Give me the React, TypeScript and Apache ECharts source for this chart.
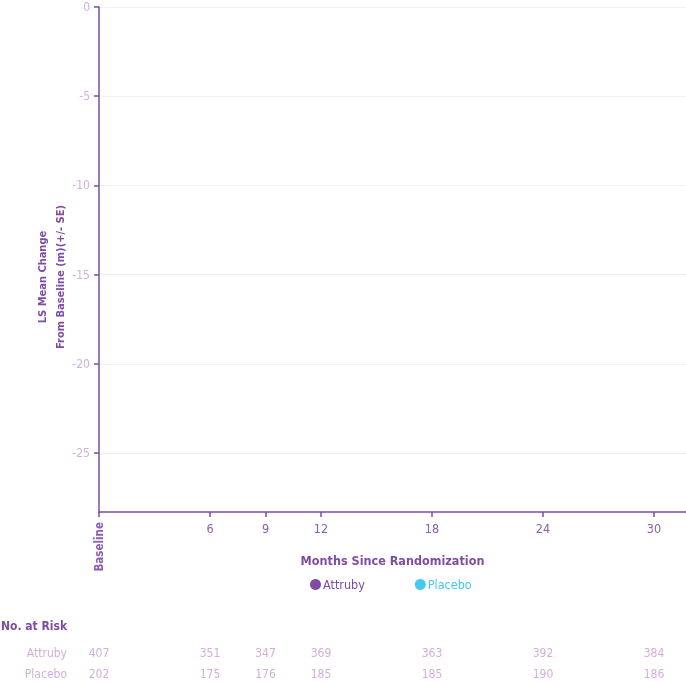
import React, { useEffect, useRef } from "react";
import * as echarts from "echarts";

const months = [0, 6, 9, 12, 18, 24, 30];
const monthLabels = ["Baseline", "6", "9", "12", "18", "24", "30"];
const yTicks = [0, -5, -10, -15, -20, -25];
const seriesNames = ["Attruby", "Placebo"];
const attrubyMean: number[][] = [];
const placeboMean: number[][] = [];
const attrubyRisk = [407, 351, 347, 369, 363, 392, 384];
const placeboRisk = [202, 175, 176, 185, 185, 190, 186];

const FONT = "'Liberation Sans Narrow', 'DejaVu Sans Condensed', 'Roboto Condensed', sans-serif";
const PURPLE = "#7f4ba3";
const LIGHT = "#d3afdc";
const MID = "#8d5eae";
const CYAN = "#45c8f2";

export default function App() {
  const ref = useRef<HTMLDivElement>(null);
  useEffect(() => {
    const chart = echarts.init(ref.current!, null, { renderer: "svg" });
    chart.setOption({
      animation: false,
      textStyle: { fontFamily: FONT },
      grid: { left: 99, right: 0, top: 7, bottom: 170, containLabel: false },
      legend: {
        top: 578,
        left: 310,
        padding: 0,
        icon: "circle",
        itemWidth: 11,
        itemHeight: 11,
        itemGap: 50,
        data: [
          { name: seriesNames[0], textStyle: { color: PURPLE } },
          { name: seriesNames[1], textStyle: { color: CYAN } },
        ],
        textStyle: { fontFamily: FONT, fontSize: 12.5, fontWeight: "normal", padding: [0, 0, 0, -3] },
      },
      xAxis: {
        type: "value",
        min: 0,
        max: 31.73,
        name: "Months Since Randomization",
        nameLocation: "middle",
        nameGap: 42,
        nameTextStyle: { color: PURPLE, fontSize: 12.5, fontFamily: FONT, fontWeight: "bold" },
        axisLine: { show: true, onZero: false, lineStyle: { color: PURPLE, width: 1.5 } },
        axisTick: { show: true, length: 5, customValues: months, lineStyle: { color: PURPLE, width: 1.5 } },
        axisLabel: {
          customValues: months,
          color: MID,
          fontSize: 12.5,
          margin: 10,
          formatter: (v: number) => {
            const i = months.indexOf(v);
            return i > 0 ? monthLabels[i] : "";
          },
        },
        splitLine: { show: false },
      },
      yAxis: {
        type: "value",
        min: -28.3,
        max: 0,
        axisLine: { show: true, onZero: false, lineStyle: { color: PURPLE, width: 1.5 } },
        axisTick: { show: true, length: 5, customValues: yTicks, lineStyle: { color: PURPLE, width: 1.5 } },
        axisLabel: { customValues: yTicks, color: LIGHT, fontSize: 12, margin: 9 },
        splitLine: { show: true, lineStyle: { color: "#f2ecf4", width: 1 } },
      },
      series: [
        { name: seriesNames[0], type: "line", data: attrubyMean, itemStyle: { color: PURPLE }, lineStyle: { color: PURPLE } },
        { name: seriesNames[1], type: "line", data: placeboMean, itemStyle: { color: CYAN }, lineStyle: { color: CYAN } },
      ],
    });

    const px = (m: number) => chart.convertToPixel({ xAxisIndex: 0 }, m) as number;
    const baseY = chart.convertToPixel({ yAxisIndex: 0 }, -28.3) as number;
    const graphics: any[] = [];
    graphics.push({
      type: "text",
      x: px(0),
      y: baseY + 10,
      rotation: Math.PI / 2,
      style: { text: monthLabels[0], fill: MID, font: `bold 11.5px ${FONT}`, align: "right", verticalAlign: "middle" },
    });
    graphics.push({
      type: "text",
      x: 51,
      y: 277,
      rotation: Math.PI / 2,
      style: {
        text: "LS Mean Change\nFrom Baseline (m)(+/- SE)",
        fill: PURPLE,
        font: `bold 11px ${FONT}`,
        align: "center",
        verticalAlign: "middle",
        lineHeight: 18,
      },
    });
    graphics.push({
      type: "text",
      x: 1,
      y: 626,
      style: { text: "No. at Risk", fill: PURPLE, font: `bold 12px ${FONT}`, align: "left", verticalAlign: "middle" },
    });
    const rows = [
      { label: seriesNames[0], vals: attrubyRisk, y: 653 },
      { label: seriesNames[1], vals: placeboRisk, y: 674 },
    ];
    rows.forEach((r) => {
      graphics.push({
        type: "text",
        x: 67,
        y: r.y,
        style: { text: r.label, fill: LIGHT, font: `12px ${FONT}`, align: "right", verticalAlign: "middle" },
      });
      r.vals.forEach((v, i) => {
        graphics.push({
          type: "text",
          x: px(months[i]),
          y: r.y,
          style: { text: String(v), fill: LIGHT, font: `12px ${FONT}`, align: "center", verticalAlign: "middle" },
        });
      });
    });
    chart.setOption({ graphic: graphics });
    return () => chart.dispose();
  }, []);
  return <div ref={ref} style={{ position: "fixed", left: 0, top: 0, width: 686, height: 682 }} />;
}
